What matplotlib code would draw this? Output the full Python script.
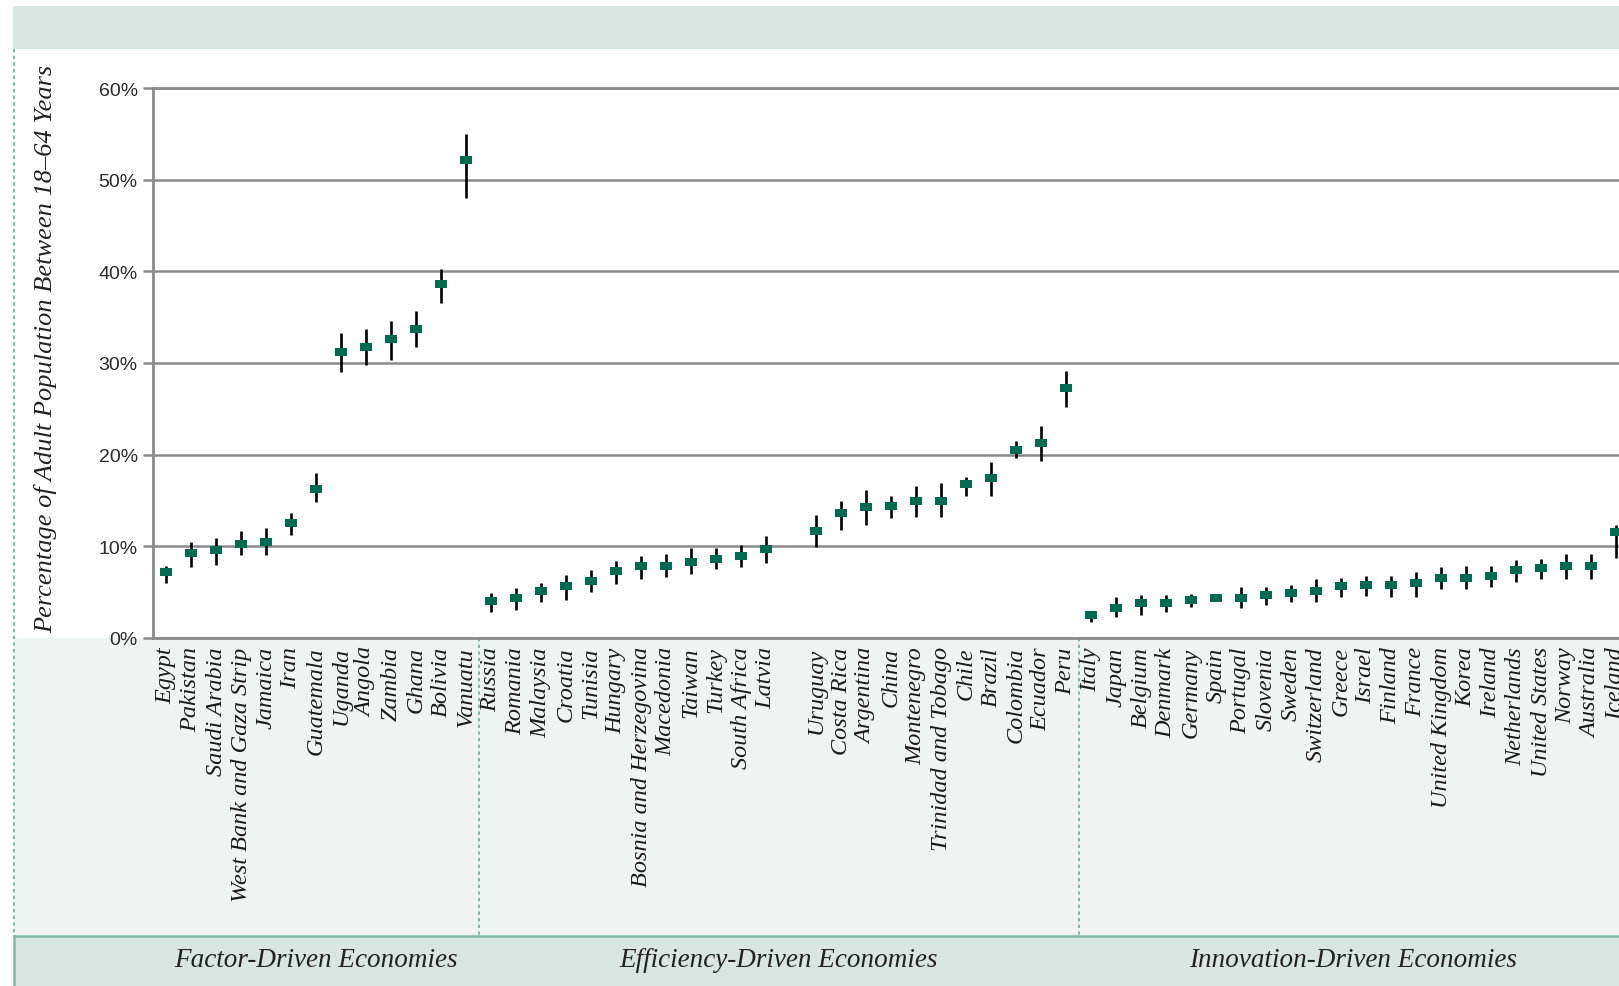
import numpy as np
import matplotlib
matplotlib.use("Agg")
import matplotlib.pyplot as plt
from matplotlib.patches import Rectangle
from matplotlib.lines import Line2D
from matplotlib.transforms import blended_transform_factory

# ---------------- data ----------------
factor_names = ["Egypt", "Pakistan", "Saudi Arabia", "West Bank and Gaza Strip", "Jamaica",
                "Iran", "Guatemala", "Uganda", "Angola", "Zambia", "Ghana", "Bolivia", "Vanuatu"]
factor_val = [7.2, 9.25, 9.6, 10.3, 10.5, 12.5, 16.3, 31.25, 31.8, 32.6, 33.7, 38.6, 52.1]
factor_lo = [6.0, 7.8, 8.0, 9.1, 9.1, 11.25, 14.8, 29.0, 29.8, 30.3, 31.7, 36.6, 48.0]
factor_hi = [7.9, 10.5, 10.9, 11.7, 12.0, 13.6, 18.0, 33.25, 33.75, 34.6, 35.7, 40.3, 55.0]

eff_names = ["Russia", "Romania", "Malaysia", "Croatia", "Tunisia", "Hungary",
             "Bosnia and Herzegovina", "Macedonia", "Taiwan", "Turkey", "South Africa", "Latvia",
             "",
             "Uruguay", "Costa Rica", "Argentina", "China", "Montenegro", "Trinidad and Tobago",
             "Chile", "Brazil", "Colombia", "Ecuador", "Peru"]
eff_val = [4.0, 4.4, 5.1, 5.7, 6.25, 7.3, 7.85, 7.85, 8.3, 8.6, 8.9, 9.7,
           np.nan,
           11.7, 13.6, 14.3, 14.4, 14.9, 14.9, 16.8, 17.5, 20.5, 21.3, 27.3]
eff_lo = [2.85, 3.1, 3.9, 4.2, 5.0, 5.85, 6.4, 6.65, 6.95, 7.5, 7.75, 8.2,
          np.nan,
          9.9, 11.8, 12.3, 13.1, 13.2, 13.2, 15.5, 15.5, 19.6, 19.3, 25.2]
eff_hi = [4.95, 5.5, 6.0, 6.9, 7.4, 8.4, 9.0, 9.2, 9.85, 9.8, 10.1, 11.1,
          np.nan,
          13.4, 15.0, 16.1, 15.5, 16.6, 16.9, 17.6, 19.2, 21.5, 23.1, 29.1]

inn_names = ["Italy", "Japan", "Belgium", "Denmark", "Germany", "Spain", "Portugal", "Slovenia",
             "Sweden", "Switzerland", "Greece", "Israel", "Finland", "France", "United Kingdom",
             "Korea", "Ireland", "Netherlands", "United States", "Norway", "Australia", "Iceland"]
inn_val = [2.5, 3.3, 3.8, 3.8, 4.2, 4.35, 4.35, 4.65, 4.9, 5.15, 5.7, 5.75, 5.75, 6.0, 6.6,
           6.6, 6.8, 7.4, 7.6, 7.85, 7.85, 11.6]
inn_lo = [1.75, 2.3, 2.55, 2.85, 3.4, 4.1, 3.3, 3.6, 3.9, 3.9, 4.5, 4.6, 4.5, 4.5, 5.3,
          5.3, 5.6, 6.1, 6.4, 6.4, 6.4, 8.7]
inn_hi = [3.0, 4.5, 4.7, 4.7, 4.85, 4.6, 5.55, 5.55, 5.8, 6.4, 6.6, 6.8, 6.8, 7.2, 7.7,
          7.85, 7.85, 8.5, 8.65, 9.2, 9.2, 12.3]

group_names = ["Factor-Driven Economies", "Efficiency-Driven Economies", "Innovation-Driven Economies"]
y_ticks = [0, 10, 20, 30, 40, 50, 60]
y_label = "Percentage of Adult Population Between 18\u201364 Years"

# ---------------- layout ----------------
W, H = 1619, 987
fig = plt.figure(figsize=(W / 100, H / 100), dpi=100)
fig.patch.set_facecolor("white")

def fx(p):
    return p / W

def fy(p):
    return 1 - p / H

names = factor_names + eff_names + inn_names
vals = np.array(factor_val + eff_val + inn_val, dtype=float)
los = np.array(factor_lo + eff_lo + inn_lo, dtype=float)
his = np.array(factor_hi + eff_hi + inn_hi, dtype=float)
x = np.arange(len(names))
n1 = len(factor_names)
n2 = len(eff_names)
n3 = len(inn_names)

ax_left, ax_top, ax_bot = 153, 89, 639
ax = fig.add_axes([fx(ax_left), fy(ax_bot), 1 - fx(ax_left), (ax_bot - ax_top) / H])
ax.set_facecolor("white")

grid_c = "#8a8a8a"
ax.set_ylim(0, 60)
ax.set_xlim(-0.52, len(names) - 1 + 0.12)
ax.set_yticks(y_ticks)
ax.set_yticklabels([f"{v}%" for v in y_ticks], fontfamily="Liberation Sans", fontsize=14, color="#2a2a2a")
ax.yaxis.grid(True, color=grid_c, lw=1.8)
ax.set_axisbelow(True)
ax.tick_params(axis="y", length=7, width=1.8, color=grid_c, pad=4)
for s in ["left", "top", "bottom"]:
    ax.spines[s].set_color(grid_c)
    ax.spines[s].set_linewidth(2.0)
ax.spines["right"].set_visible(False)

ax.set_xticks(x)
ax.set_xticklabels(names, rotation=90, fontfamily="Liberation Serif", fontstyle="italic",
                   fontsize=17.5, color="#1a1a1a")
ax.tick_params(axis="x", length=0, pad=6)

# error bars and markers
ax.vlines(x, los, his, color="black", lw=1.9, zorder=3)
rect_marker = [(-1, -0.62), (1, -0.62), (1, 0.62), (-1, 0.62), (-1, -0.62)]
ax.plot(x, vals, ls="none", marker=rect_marker, markersize=8.8, color="#006b4f",
        markeredgewidth=0, zorder=4)

# ---------------- decorations ----------------
teal = "#7fb8a8"
fig.patches.append(Rectangle((fx(13), fy(50)), 1, (50 - 7) / H, transform=fig.transFigure,
                             facecolor="#d9e7e3", edgecolor="none", zorder=-10))
fig.patches.append(Rectangle((fx(14), fy(937)), 1, (937 - ax_bot) / H, transform=fig.transFigure,
                             facecolor="#eff4f2", edgecolor="none", zorder=-10))
fig.patches.append(Rectangle((fx(14), fy(987)), 1, (987 - 937) / H, transform=fig.transFigure,
                             facecolor="#d8e6e2", edgecolor="none", zorder=-10))
fig.lines.append(Line2D([fx(14), 1], [fy(937), fy(937)], transform=fig.transFigure,
                        color=teal, lw=1.8, zorder=-5))
fig.lines.append(Line2D([fx(14), fx(14)], [fy(937), fy(987)], transform=fig.transFigure,
                        color=teal, lw=1.8, zorder=-5))
fig.lines.append(Line2D([fx(14), fx(14)], [fy(50), fy(937)], transform=fig.transFigure,
                        color="#6aaa98", lw=1.2, ls=(0, (2, 2)), zorder=-5))

blend = blended_transform_factory(ax.transData, fig.transFigure)
for sep in [n1 - 0.5, n1 + n2 - 0.5]:
    fig.lines.append(Line2D([sep, sep], [fy(ax_bot), fy(937)], transform=blend,
                            color="#6aaa98", lw=1.2, ls=(0, (2, 2)), zorder=-5))

# group labels centred in each section
bounds = [(-0.5, n1 - 0.5), (n1 - 0.5, n1 + n2 - 0.5), (n1 + n2 - 0.5, n1 + n2 + n3 - 0.5)]
for (a, b), g in zip(bounds, group_names):
    fig.text((a + b) / 2, fy(961), g, transform=blend, ha="center", va="center",
             fontfamily="Liberation Serif", fontstyle="italic", fontsize=19.5, color="#222222")

fig.text(fx(46), fy(349), y_label, rotation=90, ha="center", va="center",
         fontfamily="Liberation Serif", fontstyle="italic", fontsize=19, color="#222222")

fig.savefig("out.png", dpi=100, facecolor="white")
